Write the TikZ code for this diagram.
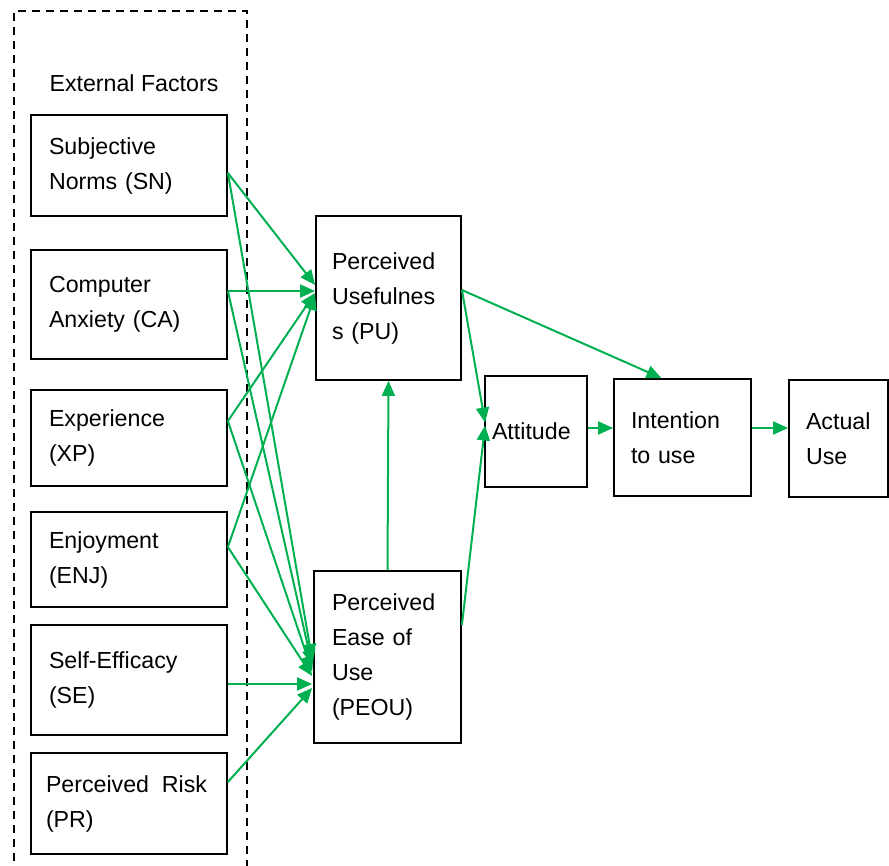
\documentclass[tikz,border=0pt]{standalone}
\usepackage{fontspec}
\setmainfont{Liberation Sans}
\usetikzlibrary{arrows.meta}
\definecolor{arrgreen}{RGB}{0,176,80}
\begin{document}
\begin{tikzpicture}[x=1pt,y=-1pt,
  box/.style={draw=black,line width=1.8pt,align=left,inner ysep=0pt,
    font=\fontsize{23.2}{35}\selectfont},
  bx/.style n args={4}{box,inner xsep=#1,text width=#2-2*#1,minimum height=#3},
  arr/.style={draw=arrgreen,line width=2pt,-{Triangle[length=15pt,width=13pt]}}]
\useasboundingbox (0,0) rectangle (889,865);
\draw[line width=2pt,dash pattern=on 8pt off 6pt] (14,875) -- (14,11) -- (247,11) -- (247,875);
\node[font=\fontsize{23.2}{35}\selectfont,anchor=base west] (ext) at (46,91) {External Factors};
\node[bx={18pt}{196pt}{101pt}{}] (sn) at (129,165.5) {Subjective\\Norms (SN)};
\node[bx={18pt}{196pt}{109pt}{}] (ca) at (129,304.5) {Computer\\Anxiety (CA)};
\node[bx={18pt}{196pt}{96pt}{}] (xp) at (129,438) {Experience\\(XP)};
\node[bx={18pt}{196pt}{95pt}{}] (enj) at (129,559.5) {Enjoyment\\(ENJ)};
\node[bx={18pt}{196pt}{110pt}{}] (se) at (129,680) {Self-Efficacy\\(SE)};
\node[bx={15pt}{196pt}{101pt}{}] (pr) at (129,803.5) {Perceived\hspace{0.55em}Risk\\(PR)};
\node[bx={16pt}{145pt}{164pt}{}] (pu) at (388.5,298) {Perceived\\Usefulnes\\s (PU)};
\node[bx={18pt}{147pt}{172pt}{}] (peou) at (387.5,657) {Perceived\\Ease of\\Use\\(PEOU)};
\node[bx={7pt}{102pt}{111pt}{}] (att) at (536,431.5) {Attitude};
\node[bx={17pt}{137pt}{117pt}{}] (int) at (682.5,437.5) {Intention\\to use};
\node[bx={17pt}{99pt}{117pt}{}] (act) at (838.5,438.5) {Actual\\Use};
% external factors to PU
\draw[arr] ([yshift=-7.5pt]sn.east) -- ([yshift=13pt]pu.west);
\draw[arr] ([yshift=13.5pt]ca.east) -- ([yshift=7pt]pu.west);
\draw[arr] ([yshift=17pt]xp.east) -- ([yshift=5pt]pu.west);
\draw[arr] ([yshift=12.5pt]enj.east) -- ([yshift=3pt]pu.west);
% external factors to PEOU
\draw[arr] ([yshift=-7.5pt]sn.east) -- ([xshift=-1pt,yshift=-2pt]peou.west);
\draw[arr] ([yshift=13.5pt]ca.east) -- ([xshift=-1pt,yshift=-8pt]peou.west);
\draw[arr] ([yshift=17pt]xp.east) -- ([xshift=-1pt,yshift=-14pt]peou.west);
\draw[arr] ([yshift=12.5pt]enj.east) -- ([xshift=-1pt,yshift=-19pt]peou.west);
\draw[arr] ([yshift=-4pt]se.east) -- ([xshift=-1pt,yshift=-27pt]peou.west);
\draw[arr] ([yshift=21.5pt]pr.east) -- ([xshift=-1pt,yshift=-31pt]peou.west);
% core model
\draw[arr] (peou.north) -- (pu.south);
\draw[arr] ([yshift=8pt]pu.east) -- ([xshift=1pt,yshift=9pt]att.west);
\draw[arr] ([yshift=32pt]peou.east) -- ([xshift=1pt,yshift=6pt]att.west);
\draw[arr] ([yshift=8pt]pu.east) -- ([xshift=-21pt]int.north);
\draw[arr] ([yshift=3.5pt]att.east) -- ([yshift=9.5pt]int.west);
\draw[arr] ([yshift=9.5pt]int.east) -- ([yshift=10.5pt]act.west);
\end{tikzpicture}
\end{document}
